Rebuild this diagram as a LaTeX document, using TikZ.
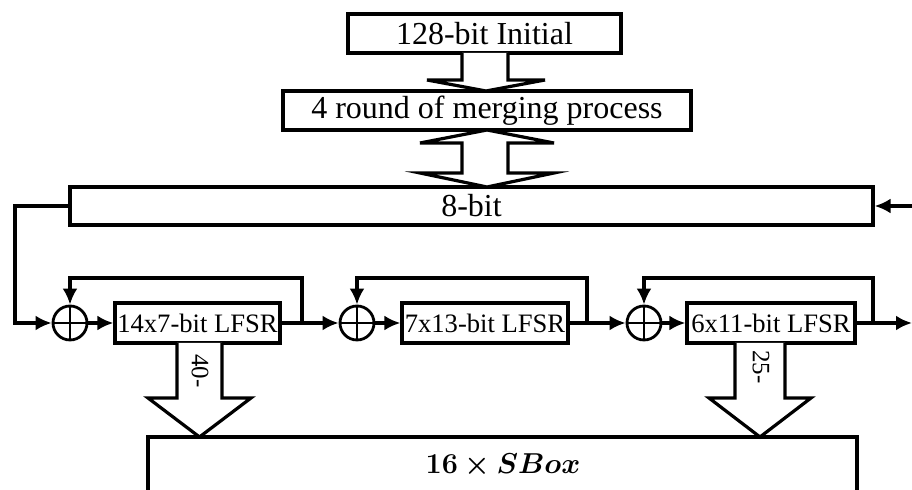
\documentclass[tikz,border=0pt]{standalone}
\usepackage{bm}
\usepackage{fontspec}
\setmainfont{Liberation Serif}
\usetikzlibrary{arrows.meta,calc}
\begin{document}
\begin{tikzpicture}[x=0.5pt,y=-0.5pt,
  box/.style={draw,line width=1.6pt,inner sep=0pt,font=\fontsize{16}{18}\selectfont},
  lbox/.style={draw,line width=1.6pt,inner sep=0pt,minimum height=20pt,font=\fontsize{13.3}{15}\selectfont},
  xorc/.style={draw,circle,line width=1.4pt,minimum size=17pt,inner sep=0pt},
  conn/.style={line width=1.7pt,-{Latex[length=8pt,width=7.5pt]}},
  fb/.style={line width=2.2pt,-{Latex[length=8pt,width=7.5pt]}},
  hollow/.style={draw,line width=1.6pt,line join=miter,fill=white},
  lbl/.style={font=\fontsize{12.5}{14}\selectfont,rotate=-90,inner sep=0pt},
  sboxtext/.style={font=\fontsize{15.5}{17}\selectfont,inner sep=0pt}]
\useasboundingbox (0,0) rectangle (912,490);
% boxes
\node[box,minimum width=136.5pt,minimum height=19.5pt] (init) at (484.5,33.5) {128-bit Initial};
\node[box,minimum width=204pt,minimum height=19.5pt] (merge) at (487,110.5) {4 round of merging process};
\node[box,minimum width=401.5pt,minimum height=19pt] (eight) at (471.5,206) {8-bit};
\node[lbox,minimum width=82.5pt] (l1) at (197.5,323) {14x7-bit LFSR};
\node[lbox,minimum width=83pt] (l2) at (485,323) {7x13-bit LFSR};
\node[lbox,minimum width=84pt] (l3) at (771,323) {6x11-bit LFSR};
\node[xorc] (x1) at (70,323) {};
\node[xorc] (x2) at (357,323) {};
\node[xorc] (x3) at (644,323) {};
\draw[line width=1.4pt] (x1.north) -- (x1.south) (x1.west) -- (x1.east);
\draw[line width=1.4pt] (x2.north) -- (x2.south) (x2.west) -- (x2.east);
\draw[line width=1.4pt] (x3.north) -- (x3.south) (x3.west) -- (x3.east);
% SBox box, open at the bottom edge of the picture
\draw[line width=1.6pt] (148,495) -- (148,437) -- (857,437) -- (857,495);
\node[sboxtext] (sbx) at (503,466) {$\bm{16\times SBox}$};
% hollow arrows
\draw[hollow] (462,53) -- (462,80) -- (427,80) -- (486,91) -- (545,80) -- (508,80) -- (508,53);
\draw[hollow] (487,130) -- (420,143) -- (462,143) -- (462,173) -- (420,173) -- (487,187) -- (554,173) -- (508,173) -- (508,143) -- (554,143) -- cycle;
\draw[hollow] (177,343) -- (177,398) -- (148,398) -- (199.5,437) -- (251,398) -- (222,398) -- (222,343);
\draw[hollow] (735,343) -- (735,398) -- (709,398) -- (760,437) -- (811,398) -- (785,398) -- (785,343);
\node[lbl] (n40) at (200,371) {40-};
\node[lbl] (n25) at (761,367) {25-};
% coordinates
\coordinate (lfb) at (15,206);
\coordinate (rin) at (912,206);
\coordinate (out) at (912,323);
\coordinate (t1) at (302,323);
\coordinate (t2) at (587,323);
\coordinate (t3) at (873,323);
% connectors
\draw[conn] (eight.west) -- (lfb) |- (x1.west);
\draw[conn] (rin) -- (eight.east);
\draw[conn] (x1) -- (l1);
\draw[conn] (l1) -- (x2);
\draw[conn] (x2) -- (l2);
\draw[conn] (l2) -- (x3);
\draw[conn] (x3) -- (l3);
\draw[conn] (l3) -- (out);
\draw[fb] (t1) -- (302,278) -| (x1.north);
\draw[fb] (t2) -- (587,278) -| (x2.north);
\draw[fb] (t3) -- (873,278) -| (x3.north);
\end{tikzpicture}
\end{document}
